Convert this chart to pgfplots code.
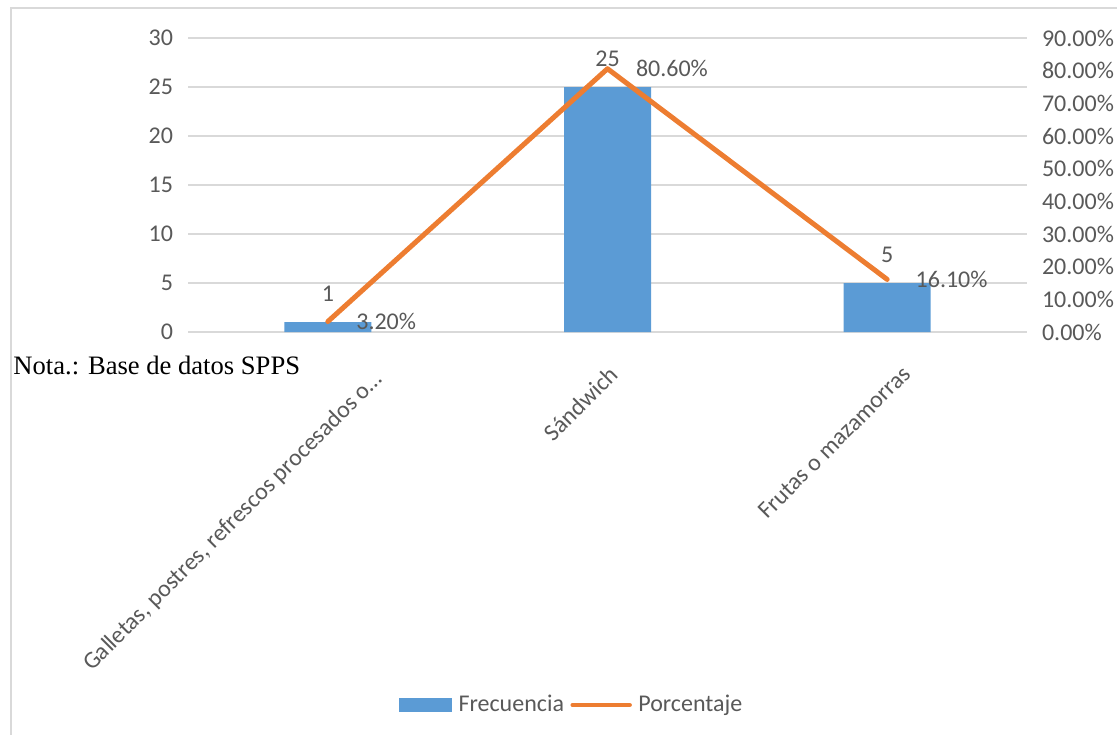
\documentclass[border=0pt]{standalone}
\usepackage{fontspec}
\setmainfont{Carlito}
\newfontfamily\notafont{Liberation Serif}
\usepackage{pgfplots}
\pgfplotsset{compat=1.18}

\definecolor{barblue}{HTML}{5B9BD5}
\definecolor{lineorange}{HTML}{ED7D31}
\definecolor{txt}{HTML}{595959}
\definecolor{gridgray}{HTML}{D9D9D9}

\newcommand{\chartfont}{\fontsize{12bp}{14bp}\selectfont}

\pgfplotsset{
  base/.style={
    scale only axis, width=419.5bp, height=147bp,
    at={(94bp,-166bp)}, anchor=south west,
    xmin=-0.5, xmax=2.5, clip=false,
    axis line style={draw=none}, major tick length=0pt,
    tick label style={font=\chartfont, text=txt},
    /pgf/number format/assume math mode=true,
    every node near coord/.append style={font=\chartfont, text=txt},
  },
  barimg/.style={legend image code/.code={\fill[barblue] (0bp,-3.5bp) rectangle (26.5bp,3.5bp);}},
  lineimg/.style={legend image code/.code={\draw[lineorange, line width=2.25bp, line cap=round] (0bp,0bp) -- (28.5bp,0bp);}},
}

\begin{document}
\begin{tikzpicture}
\useasboundingbox (0,0) rectangle (558.5bp,-367.5bp);
\draw[gridgray, line width=1bp] (5.5bp,-370bp) -- (5.5bp,-4.15bp) -- (560bp,-4.15bp);

\begin{axis}[base,
  ybar, bar width=43.5bp,
  ymin=0, ymax=30, ytick={0,5,...,30}, yticklabel pos=left,
  yticklabel style={xshift=-4bp},
  ymajorgrids, grid style={draw=gridgray, line width=0.75bp},
  xtick={0,1,2},
  xticklabels={{Galletas, postres, refrescos procesados o…}, Sándwich, Frutas o mazamorras},
  xticklabel style={
    xshift={ifthenelse(\ticknum==0,22,ifthenelse(\ticknum==2,7,0))*1bp},
    yshift={ifthenelse(\ticknum==0,-4,-2)*1bp},
    rotate=45, anchor=north east, inner sep=0pt},
  xticklabel shift=14bp,
  nodes near coords,
  nodes near coords style={anchor=center, yshift=14bp},
  legend style={at={(0.4600,-1.2687)}, anchor=center, draw=none, fill=none,
    font=\chartfont, text=txt, legend columns=2, inner sep=0pt,
    nodes={inner xsep=3.2bp, inner ysep=1bp},
    /tikz/every even column/.append style={column sep=0pt}},
]
\addplot[fill=barblue, draw=none, barimg]
  coordinates {(0,1) (1,25) (2,5)};
\addlegendentry{Frecuencia}
\addlegendimage{lineimg}
\addlegendentry{Porcentaje}
\end{axis}

\begin{axis}[base,
  ymin=0, ymax=90, ytick={0,10,...,90}, yticklabel pos=right,
  yticklabel style={xshift=4bp},
  yticklabel={\pgfmathprintnumber[fixed,fixed zerofill,precision=2]{\tick}\%},
  xtick=\empty,
]
\addplot[lineorange, line width=2.5bp, line cap=round, line join=round, mark=none,
  nodes near coords={\pgfmathprintnumber[fixed,fixed zerofill,precision=2]{\pgfplotspointmeta}\%},
  nodes near coords style={anchor=west, inner sep=0pt, xshift=13bp}]
  coordinates {(0,3.2) (1,80.6) (2,16.1)};
\end{axis}

\node[anchor=base west, inner sep=0pt, font=\notafont\fontsize{13.3bp}{15bp}\selectfont]
  at (6.5bp,-187bp) {Nota.: Base de datos SPPS};
\end{tikzpicture}
\end{document}
